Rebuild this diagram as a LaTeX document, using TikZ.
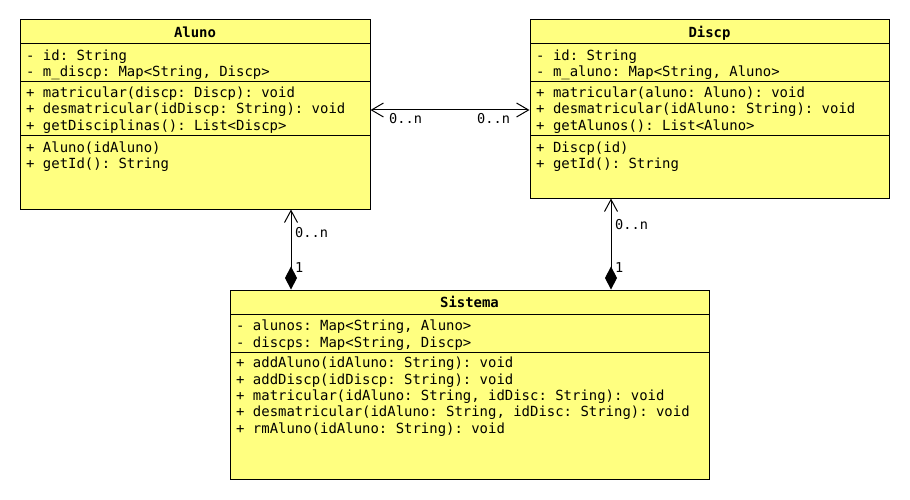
\documentclass[tikz,border=0pt]{standalone}
\usepackage{fontspec}
\setmonofont{DejaVu Sans Mono}
\usetikzlibrary{arrows.meta}
\definecolor{umlfill}{HTML}{FFFF80}
\tikzset{
  x=1pt, y=-1pt,
  classbox/.style={draw=black, line width=1pt, fill=umlfill, rectangle, inner sep=0pt},
  sep/.style={draw=black, line width=1pt},
  txt/.style={anchor=base west, inner sep=0pt, font=\ttfamily\fontsize{13.95}{16}\selectfont},
  ttl/.style={anchor=base, inner sep=0pt, font=\ttfamily\bfseries\fontsize{13.95}{16}\selectfont},
  lbl/.style={anchor=base west, inner sep=0pt, font=\ttfamily\fontsize{13.6}{16}\selectfont},
  conn/.style={draw=black, line width=1pt},
}
\begin{document}
\begin{tikzpicture}
\useasboundingbox (0,0) rectangle (910,500);
\fill[white] (0,0) rectangle (910,500);

% Aluno
\node[classbox, minimum width=350pt, minimum height=189pt] (aluno) at (195,114.5) {};
\draw[sep] (20,44) -- (370,44);
\draw[sep] (20,82) -- (370,82);
\draw[sep] (20,136) -- (370,136);
\node[ttl] (alunoT) at (195,37.7) {Aluno};
\node[txt] (a1) at (26,60.5) {- id: String};
\node[txt] (a2) at (26,76.8) {- m\_discp: Map<String, Discp>};
\node[txt] (a3) at (26,97.7) {+ matricular(discp: Discp): void};
\node[txt] (a4) at (26,114.0) {+ desmatricular(idDiscp: String): void};
\node[txt] (a5) at (26,130.3) {+ getDisciplinas(): List<Discp>};
\node[txt] (a6) at (26,152.3) {+ Aluno(idAluno)};
\node[txt] (a7) at (26,168.6) {+ getId(): String};

% Discp
\node[classbox, minimum width=359pt, minimum height=178pt] (discp) at (709.5,109) {};
\draw[sep] (530,44) -- (889,44);
\draw[sep] (530,82) -- (889,82);
\draw[sep] (530,136) -- (889,136);
\node[ttl] (discpT) at (709.5,37.7) {Discp};
\node[txt] (d1) at (536,60.5) {- id: String};
\node[txt] (d2) at (536,76.8) {- m\_aluno: Map<String, Aluno>};
\node[txt] (d3) at (536,97.7) {+ matricular(aluno: Aluno): void};
\node[txt] (d4) at (536,114.0) {+ desmatricular(idAluno: String): void};
\node[txt] (d5) at (536,130.3) {+ getAlunos(): List<Aluno>};
\node[txt] (d6) at (536,152.3) {+ Discp(id)};
\node[txt] (d7) at (536,168.6) {+ getId(): String};

% Sistema
\node[classbox, minimum width=479pt, minimum height=189pt] (sistema) at (469.5,384.5) {};
\draw[sep] (230,314) -- (709,314);
\draw[sep] (230,352) -- (709,352);
\node[ttl] (sistemaT) at (469.5,307.7) {Sistema};
\node[txt] (s1) at (236,330.8) {- alunos: Map<String, Aluno>};
\node[txt] (s2) at (236,347.1) {- discps: Map<String, Discp>};
\node[txt] (s3) at (236,367.9) {+ addAluno(idAluno: String): void};
\node[txt] (s4) at (236,384.2) {+ addDiscp(idDiscp: String): void};
\node[txt] (s5) at (236,400.5) {+ matricular(idAluno: String, idDisc: String): void};
\node[txt] (s6) at (236,416.8) {+ desmatricular(idAluno: String, idDisc: String): void};
\node[txt] (s7) at (236,433.1) {+ rmAluno(idAluno: String): void};

% connectors
\coordinate (hy) at (0,110);
\coordinate (cx1) at (291,0);
\coordinate (cx2) at (611,0);
\draw[conn, {Straight Barb[length=12pt,width=14pt,line width=1pt]}-{Straight Barb[length=12pt,width=14pt,line width=1pt]}]
  (aluno.east |- hy) -- (discp.west |- hy);
\node[lbl] (l1) at (389,123.3) {0..n};
\node[lbl] (l2) at (477,123.3) {0..n};

\draw[conn, {Diamond[length=23pt,width=12pt,fill=black]}-{Straight Barb[length=12pt,width=13pt,line width=1pt]}]
  (sistema.north -| cx1) -- (aluno.south -| cx1);
\node[lbl] (l3) at (295,237.3) {0..n};
\node[lbl] (l4) at (295,272) {1};

\draw[conn, {Diamond[length=23pt,width=12pt,fill=black]}-{Straight Barb[length=12pt,width=13pt,line width=1pt]}]
  (sistema.north -| cx2) -- (discp.south -| cx2);
\node[lbl] (l5) at (615,229.3) {0..n};
\node[lbl] (l6) at (615,272) {1};
\end{tikzpicture}
\end{document}
